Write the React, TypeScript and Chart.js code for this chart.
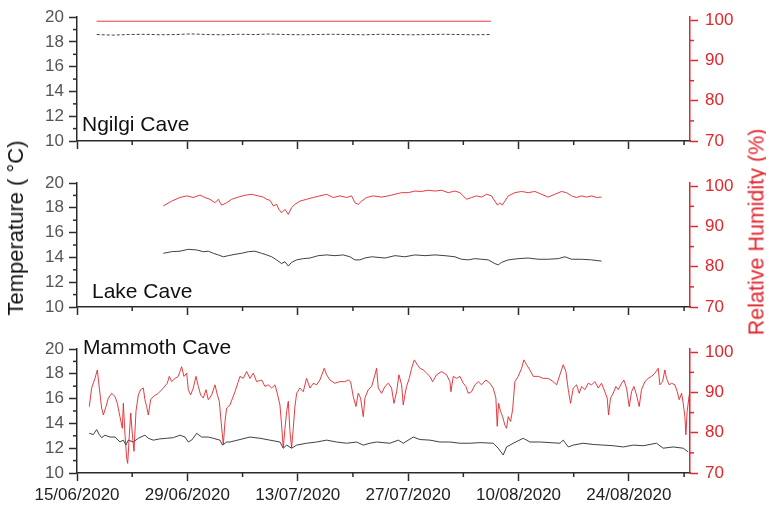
import React, { useEffect, useRef } from "react";
import { Chart, registerables } from "chart.js";
Chart.register(...registerables);

// x values are days since 15/06/2020
const dateTickDays = [0, 14, 28, 42, 56, 70];
const dateTickLabels = ["15/06/2020", "29/06/2020", "13/07/2020", "27/07/2020", "10/08/2020", "24/08/2020"];
const dateMinorDays = [7, 21, 35, 49, 63, 77];
const tempTicks = [10, 12, 14, 16, 18, 20];
const tempMinor = [11, 13, 15, 17, 19];
const rhTicks = [70, 80, 90, 100];
const rhMinor = [75, 85, 95];
const caveNames = ["Ngilgi Cave", "Lake Cave", "Mammoth Cave"];

// Ngilgi Cave
const ngilgiTDays = [2.5, 4.5, 6.5, 8.5, 10.5, 12.5, 14.5, 16.5, 18.5, 20.5, 22.5, 24.5, 26.5, 28.5, 30.5, 32.5, 34.5, 36.5, 38.5, 40.5, 42.5, 44.5, 46.5, 48.5, 50.5, 52.5];
const ngilgiT = [18.6, 18.55, 18.6, 18.62, 18.58, 18.6, 18.65, 18.6, 18.58, 18.62, 18.6, 18.64, 18.6, 18.58, 18.6, 18.62, 18.6, 18.58, 18.62, 18.6, 18.58, 18.6, 18.62, 18.6, 18.58, 18.6];
const ngilgiRhDays = [2.5, 52.5];
const ngilgiRh = [99.8, 99.8];

// Lake Cave
const lakeRhDays = [10.95, 12.0, 13.06, 13.91, 14.75, 15.6, 16.23, 16.87, 17.5, 17.92, 18.35, 18.98, 19.61, 20.46, 21.3, 22.15, 22.99, 23.63, 24.05, 24.47, 24.9, 25.32, 25.61, 25.95, 26.38, 26.8, 27.22, 27.64, 28.28, 29.12, 29.97, 30.81, 31.66, 32.5, 33.35, 34.2, 34.83, 35.25, 35.67, 36.1, 36.73, 37.58, 38.63, 39.48, 40.33, 41.17, 42.02, 42.86, 43.71, 44.55, 45.4, 46.24, 47.09, 47.93, 48.57, 48.99, 49.41, 50.05, 50.68, 51.31, 51.95, 52.58, 53.0, 53.34, 53.64, 53.94, 54.27, 54.7, 55.54, 56.39, 57.23, 58.08, 58.92, 59.77, 60.61, 61.46, 62.09, 62.73, 63.36, 64.0, 64.63, 65.26, 65.9, 66.53];
const lakeRh = [95.1, 96.3, 97.2, 97.6, 97.2, 97.8, 97.2, 96.75, 95.9, 96.75, 95.3, 95.9, 96.75, 97.3, 97.75, 98.0, 97.6, 97.3, 96.75, 96.5, 95.1, 95.5, 94.25, 93.4, 94.25, 93.0, 94.7, 95.5, 96.3, 96.75, 97.2, 97.6, 98.0, 97.2, 97.6, 97.2, 97.6, 95.9, 95.5, 96.3, 97.2, 97.6, 97.3, 97.6, 98.0, 98.4, 98.4, 98.8, 98.7, 99.0, 98.8, 99.0, 98.4, 98.8, 98.4, 97.6, 96.75, 97.2, 97.6, 97.3, 98.0, 97.6, 96.3, 95.3, 95.9, 95.3, 96.3, 97.6, 98.4, 98.7, 98.4, 98.7, 98.0, 97.3, 98.0, 98.7, 98.4, 97.6, 97.2, 97.6, 97.3, 97.6, 97.2, 97.3];
const lakeTDays = [10.95, 12.0, 13.06, 14.12, 15.18, 16.02, 16.65, 17.29, 17.92, 18.56, 19.19, 20.04, 20.88, 21.73, 22.57, 23.42, 24.05, 24.69, 25.32, 25.95, 26.38, 26.8, 27.22, 27.86, 28.7, 29.55, 30.6, 31.66, 32.72, 33.77, 34.62, 35.25, 35.88, 36.52, 37.37, 39.06, 40.33, 41.59, 42.86, 44.13, 45.4, 46.66, 47.93, 48.78, 49.62, 50.47, 51.31, 52.16, 53.0, 53.43, 53.85, 54.7, 55.96, 57.23, 58.5, 59.77, 61.04, 61.88, 62.73, 64.0, 65.26, 66.53];
const lakeT = [14.33, 14.46, 14.5, 14.65, 14.6, 14.46, 14.5, 14.33, 14.2, 14.05, 14.14, 14.25, 14.33, 14.46, 14.5, 14.33, 14.2, 14.05, 13.8, 13.5, 13.65, 13.3, 13.6, 13.8, 13.9, 13.95, 14.14, 14.2, 14.14, 14.2, 14.05, 13.8, 13.8, 13.95, 14.05, 13.95, 14.14, 14.05, 14.2, 14.14, 14.2, 14.14, 14.05, 13.85, 13.8, 13.9, 13.85, 13.8, 13.5, 13.4, 13.6, 13.8, 13.9, 13.95, 13.85, 13.85, 13.9, 14.05, 13.85, 13.85, 13.8, 13.7];

// Mammoth Cave
const mammothRhDays = [1.56, 1.86, 2.28, 2.58, 2.83, 3.13, 3.34, 3.68, 3.97, 4.4, 4.82, 5.11, 5.45, 5.75, 5.88, 6.09, 6.3, 6.43, 6.64, 6.81, 7.06, 7.23, 7.48, 7.78, 8.07, 8.41, 8.62, 8.83, 9.05, 9.34, 9.68, 10.31, 10.95, 11.45, 11.71, 12.0, 12.43, 12.85, 13.06, 13.27, 13.57, 13.91, 14.12, 14.41, 14.75, 15.09, 15.39, 15.68, 16.02, 16.36, 16.65, 17.08, 17.5, 17.8, 18.05, 18.35, 18.56, 18.77, 18.98, 19.4, 20.04, 20.67, 21.09, 21.52, 21.94, 22.36, 22.78, 23.42, 23.84, 24.26, 24.69, 25.11, 25.4, 25.74, 25.95, 26.16, 26.38, 26.59, 26.8, 27.01, 27.22, 27.43, 27.64, 27.86, 28.28, 28.7, 29.12, 29.55, 29.97, 30.39, 30.81, 31.36, 31.66, 32.08, 32.72, 33.35, 33.98, 34.41, 34.7, 35.04, 35.38, 35.67, 35.97, 36.31, 36.52, 36.94, 37.37, 37.79, 38.0, 38.21, 38.63, 39.06, 39.48, 39.9, 40.2, 40.54, 40.83, 41.17, 41.38, 41.59, 41.8, 42.14, 42.44, 42.78, 43.16, 43.5, 43.92, 44.34, 44.76, 45.1, 45.61, 46.24, 46.88, 47.3, 47.43, 47.72, 48.14, 48.57, 48.99, 49.33, 49.62, 50.05, 50.47, 50.89, 51.31, 51.86, 52.37, 52.79, 53.13, 53.3, 53.47, 53.72, 53.98, 54.27, 54.48, 54.7, 54.99, 55.25, 55.54, 55.96, 56.39, 56.68, 57.02, 57.44, 57.87, 58.5, 59.13, 59.77, 60.4, 60.83, 61.25, 61.67, 62.01, 62.31, 62.6, 62.94, 63.36, 63.7, 64.0, 64.42, 64.84, 65.26, 65.69, 66.11, 66.53, 66.95, 67.25, 67.42, 67.67, 68.01, 68.35, 68.65, 69.07, 69.36, 69.7, 70.04, 70.34, 70.63, 70.97, 71.31, 71.6, 72.03, 72.45, 72.87, 73.29, 73.72, 73.93, 74.27, 74.56, 74.77, 75.11, 75.41, 75.83, 76.13, 76.38, 76.68, 76.89, 77.1, 77.23, 77.39, 77.65];
const mammothRh = [86.5, 91.1, 93.5, 95.6, 91.1, 86.1, 84.4, 86.5, 88.6, 89.8, 89.0, 87.3, 84.0, 81.1, 87.3, 79.5, 73.7, 72.4, 79.5, 84.9, 78.7, 75.4, 85.3, 89.4, 90.7, 91.1, 88.2, 86.5, 84.4, 88.2, 89.0, 89.8, 91.1, 92.3, 94.0, 92.7, 93.5, 94.0, 95.2, 96.4, 94.0, 94.8, 90.7, 89.4, 91.1, 94.0, 91.5, 89.4, 88.6, 90.7, 88.2, 89.4, 91.9, 89.4, 87.8, 81.2, 77.0, 82.8, 86.1, 86.9, 90.2, 94.0, 93.5, 95.2, 93.5, 94.8, 92.7, 93.1, 91.5, 91.9, 91.1, 91.9, 89.8, 86.9, 81.9, 76.2, 81.1, 85.3, 87.8, 80.3, 76.2, 81.1, 86.5, 89.8, 91.1, 90.2, 93.5, 91.1, 92.3, 91.9, 93.1, 96.0, 94.4, 93.1, 92.3, 92.7, 92.7, 93.1, 92.7, 89.0, 86.5, 89.8, 88.6, 84.0, 88.6, 90.7, 91.5, 94.4, 96.0, 91.1, 89.8, 91.5, 92.3, 91.1, 87.3, 90.2, 94.4, 91.9, 86.9, 89.4, 91.5, 93.5, 96.0, 98.1, 96.9, 96.0, 95.6, 94.8, 94.0, 92.7, 94.4, 95.2, 94.4, 92.7, 90.2, 94.0, 93.5, 94.0, 92.3, 91.5, 89.8, 90.2, 91.9, 92.7, 91.9, 93.1, 92.3, 91.1, 88.6, 81.6, 87.3, 85.3, 84.0, 81.9, 81.1, 84.0, 82.8, 85.7, 92.7, 94.0, 96.0, 98.1, 96.9, 95.6, 94.0, 94.0, 93.5, 93.5, 92.7, 91.9, 94.4, 96.9, 95.2, 90.7, 87.3, 91.1, 91.9, 89.8, 91.5, 90.7, 92.3, 91.9, 92.7, 91.1, 92.3, 90.2, 88.6, 84.4, 88.6, 89.8, 91.5, 90.7, 92.3, 93.1, 91.1, 86.5, 90.2, 91.5, 89.4, 86.5, 90.7, 92.7, 93.5, 94.0, 94.8, 96.0, 91.9, 92.7, 95.6, 93.5, 91.9, 92.3, 91.9, 90.2, 88.2, 89.8, 87.3, 84.0, 79.5, 85.3, 89.4];
const mammothTDays = [1.56, 2.07, 2.49, 2.83, 3.13, 3.55, 4.18, 4.82, 5.45, 5.88, 6.21, 6.51, 7.14, 7.78, 8.62, 9.05, 9.68, 10.52, 11.37, 12.22, 13.06, 13.7, 14.12, 14.54, 15.18, 15.81, 16.65, 17.29, 18.13, 18.47, 18.98, 19.4, 20.67, 21.94, 23.21, 24.47, 25.74, 26.16, 26.59, 27.22, 27.86, 29.12, 30.39, 31.66, 32.93, 34.19, 35.46, 36.31, 37.15, 38.0, 39.69, 40.75, 41.38, 42.65, 43.5, 44.76, 46.03, 47.3, 48.57, 49.84, 51.1, 52.79, 53.42, 54.06, 54.48, 55.33, 56.6, 57.44, 58.71, 59.98, 61.25, 61.67, 62.31, 62.94, 64.21, 65.47, 66.74, 68.01, 69.28, 70.55, 71.81, 73.5, 74.35, 75.62, 76.89, 77.52];
const mammothT = [13.2, 13.1, 13.5, 13.1, 12.85, 13.05, 12.9, 12.9, 12.5, 12.65, 12.25, 12.65, 12.5, 12.8, 13.05, 12.8, 12.65, 12.75, 12.8, 12.85, 13.05, 12.9, 12.5, 12.65, 13.2, 12.9, 12.9, 12.8, 12.65, 12.25, 12.5, 12.5, 12.7, 12.9, 12.8, 12.65, 12.5, 12.0, 12.25, 12.0, 12.25, 12.4, 12.5, 12.65, 12.5, 12.4, 12.5, 12.25, 12.4, 12.5, 12.4, 12.65, 12.4, 12.9, 12.7, 12.65, 12.5, 12.5, 12.4, 12.4, 12.45, 12.4, 12.0, 11.45, 12.1, 12.4, 12.8, 12.5, 12.5, 12.45, 12.4, 12.65, 12.1, 12.25, 12.4, 12.3, 12.25, 12.2, 12.1, 12.25, 12.2, 12.4, 12.0, 12.1, 12.0, 11.7];

const RED = "rgb(226,38,44)";
const DARK = "#2b2b2b";
const FONT = '"Liberation Sans", Arial, sans-serif';

const pts = (xs: number[], ys: number[]) => xs.map((x, i) => ({ x, y: ys[i] }));

const minorTickPlugin = {
  id: "minorTicks",
  afterDraw(chart: any, _args: any, opts: any) {
    const ctx = chart.ctx;
    const list = opts.items || [];
    list.forEach((it: any) => {
      const s = chart.scales[it.scale];
      if (!s) return;
      ctx.save();
      ctx.strokeStyle = it.color;
      ctx.lineWidth = 1.5;
      it.values.forEach((v: number) => {
        const p = s.getPixelForValue(v);
        ctx.beginPath();
        if (s.isHorizontal()) {
          ctx.moveTo(p, s.top);
          ctx.lineTo(p, s.top + 4);
        } else if (s.position === "left") {
          ctx.moveTo(s.right, p);
          ctx.lineTo(s.right - 4, p);
        } else {
          ctx.moveTo(s.left, p);
          ctx.lineTo(s.left + 4, p);
        }
        ctx.stroke();
      });
      ctx.restore();
    });
  },
};

const caveLabelPlugin = {
  id: "caveLabel",
  afterDraw(chart: any, _args: any, opts: any) {
    const ctx = chart.ctx;
    const a = chart.chartArea;
    ctx.save();
    ctx.font = `21px ${FONT}`;
    ctx.fillStyle = "#111";
    ctx.textBaseline = "alphabetic";
    const y = opts.fromTop ? a.top + opts.dy : a.bottom - opts.dy;
    ctx.fillText(opts.text, a.left + opts.dx, y);
    ctx.restore();
  },
};

type PanelProps = {
  top: number;
  height: number;
  padTop: number;
  xHeight: number;
  showDates: boolean;
  label: string;
  labelDx: number;
  labelDy: number;
  labelFromTop: boolean;
  tDash: number[];
  tData: { x: number; y: number }[];
  rhData: { x: number; y: number }[];
};

function Panel(p: PanelProps) {
  const ref = useRef<HTMLCanvasElement | null>(null);
  useEffect(() => {
    if (!ref.current) return;
    const chart = new Chart(ref.current, {
      type: "line",
      data: {
        datasets: [
          {
            data: p.rhData,
            yAxisID: "y1",
            borderColor: RED,
            borderWidth: 0.9,
            pointRadius: 0,
            tension: 0,
          },
          {
            data: p.tData,
            yAxisID: "y",
            borderColor: DARK,
            borderWidth: 0.9,
            borderDash: p.tDash,
            pointRadius: 0,
            tension: 0,
          },
        ],
      },
      options: {
        animation: false,
        responsive: false,
        maintainAspectRatio: false,
        layout: { padding: { top: p.padTop, left: 0, right: 0, bottom: 0 } },
        plugins: {
          legend: { display: false },
          tooltip: { enabled: false },
          minorTicks: {
            items: [
              { scale: "x", values: dateMinorDays, color: DARK },
              { scale: "y", values: tempMinor, color: DARK },
              { scale: "y1", values: rhMinor, color: RED },
            ],
          },
          caveLabel: { text: p.label, dx: p.labelDx, dy: p.labelDy, fromTop: p.labelFromTop },
        } as any,
        scales: {
          x: {
            type: "linear",
            min: 0,
            max: 77.75,
            afterBuildTicks: (s: any) => {
              s.ticks = dateTickDays.map((v) => ({ value: v }));
            },
            afterFit: (s: any) => {
              s.height = p.xHeight;
            },
            ticks: {
              autoSkip: false,
              maxRotation: 0,
              padding: 4,
              color: "#222",
              font: { family: FONT, size: 17 },
              callback: (_v: any, i: number) => (p.showDates ? dateTickLabels[i] : ""),
            },
            grid: { drawOnChartArea: false, drawTicks: true, tickLength: 8, tickWidth: 1.5, tickColor: DARK },
            border: { display: true, color: DARK, width: 1.5 },
          },
          y: {
            type: "linear",
            position: "left",
            min: 10,
            max: 20,
            afterBuildTicks: (s: any) => {
              s.ticks = tempTicks.map((v) => ({ value: v }));
            },
            afterFit: (s: any) => {
              s.width = 77;
            },
            ticks: {
              autoSkip: false,
              padding: 5,
              color: "#555",
              font: { family: FONT, size: 17 },
              callback: (v: any) => String(v),
            },
            grid: { drawOnChartArea: false, drawTicks: true, tickLength: 8, tickWidth: 1.5, tickColor: DARK },
            border: { display: true, color: DARK, width: 1.5 },
          },
          y1: {
            type: "linear",
            position: "right",
            min: 70,
            max: 100.8,
            afterBuildTicks: (s: any) => {
              s.ticks = rhTicks.map((v) => ({ value: v }));
            },
            afterFit: (s: any) => {
              s.width = 76;
            },
            ticks: {
              autoSkip: false,
              padding: 7,
              color: RED,
              font: { family: FONT, size: 17 },
              callback: (v: any) => String(v),
            },
            grid: { drawOnChartArea: false, drawTicks: true, tickLength: 8, tickWidth: 1.5, tickColor: RED },
            border: { display: true, color: RED, width: 1.5 },
          },
        },
      } as any,
      plugins: [minorTickPlugin, caveLabelPlugin],
    });
    return () => chart.destroy();
  }, []);
  return (
    <canvas
      ref={ref}
      width={766}
      height={p.height}
      style={{ position: "absolute", left: 0, top: p.top, width: 766, height: p.height }}
    />
  );
}

export default function App() {
  return (
    <div style={{ position: "absolute", left: 0, top: 0, width: 766, height: 508, background: "#fff", overflow: "hidden" }}>
      <Panel top={0} height={161} padTop={15} xHeight={20} showDates={false} label={caveNames[0]} labelDx={5} labelDy={10} labelFromTop={false} tDash={[3, 2]} tData={pts(ngilgiTDays, ngilgiT)} rhData={pts(ngilgiRhDays, ngilgiRh)} />
      <Panel top={153} height={174} padTop={30} xHeight={20} showDates={false} label={caveNames[1]} labelDx={15} labelDy={9} labelFromTop={false} tDash={[]} tData={pts(lakeTDays, lakeT)} rhData={pts(lakeRhDays, lakeRh)} />
      <Panel top={319} height={189} padTop={30} xHeight={35} showDates={true} label={caveNames[2]} labelDx={6} labelDy={5} labelFromTop={true} tDash={[]} tData={pts(mammothTDays, mammothT)} rhData={pts(mammothRhDays, mammothRh)} />
      <div style={{ position: "absolute", left: 16, top: 228, transform: "translate(-50%, -50%) rotate(-90deg)", whiteSpace: "nowrap", font: `22px ${FONT}`, color: "#111" }}>
        Temperature ( °C)
      </div>
      <div style={{ position: "absolute", left: 757, top: 232, transform: "translate(-50%, -50%) rotate(-90deg)", whiteSpace: "nowrap", font: `21.5px ${FONT}`, color: RED }}>
        Relative Humidity (%)
      </div>
    </div>
  );
}
